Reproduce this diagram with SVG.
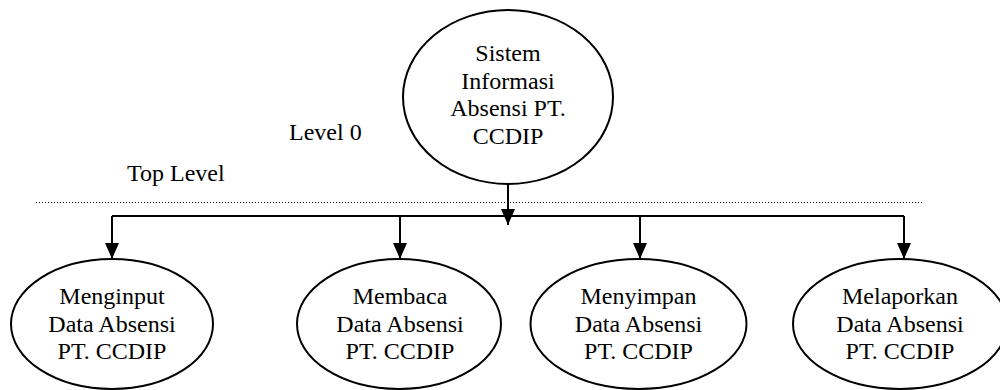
<svg xmlns="http://www.w3.org/2000/svg" width="1000" height="390" viewBox="0 0 1000 390">
  <style>
    .node ellipse { fill: #fff; stroke: #000; stroke-width: 2; }
    text { font-family: "Liberation Serif", "Times New Roman", serif; font-size: 24px; fill: #000; text-anchor: middle; }
    .lbl { text-anchor: start; }
    .conn { fill: none; stroke: #000; stroke-width: 2; }
    .dot { stroke: #000; stroke-width: 1; stroke-dasharray: 1 2; }
  </style>
  <defs>
    <marker id="arr" markerWidth="16" markerHeight="14" refX="16" refY="7" orient="auto" markerUnits="userSpaceOnUse" viewBox="0 0 16 14">
      <path d="M0,0 L16,7 L0,14 Z" fill="#000"/>
    </marker>
  </defs>
  <line class="dot" x1="36" y1="202.5" x2="923" y2="202.5"/>
  <text class="lbl" x="289" y="140">Level 0</text>
  <text class="lbl" x="127" y="181">Top Level</text>
  <g id="connectors">
    <path class="conn" d="M112,216 L904,216"/>
    <path class="conn" d="M508,184 L508,225" marker-end="url(#arr)"/>
    <path class="conn" d="M112,216 L112,259" marker-end="url(#arr)"/>
    <path class="conn" d="M400,216 L400,259" marker-end="url(#arr)"/>
    <path class="conn" d="M640,216 L640,259" marker-end="url(#arr)"/>
    <path class="conn" d="M904,216 L904,259" marker-end="url(#arr)"/>
  </g>
  <g id="n0" class="node">
    <ellipse cx="508" cy="97" rx="105" ry="87"/>
    <text x="508" y="61">Sistem</text>
    <text x="508" y="88.5">Informasi</text>
    <text x="508" y="116">Absensi PT.</text>
    <text x="508" y="143.5">CCDIP</text>
  </g>
  <g id="n1" class="node">
    <ellipse cx="112" cy="324" rx="101" ry="65"/>
    <text x="112" y="304">Menginput</text>
    <text x="112" y="331.5">Data Absensi</text>
    <text x="112" y="358.5">PT. CCDIP</text>
  </g>
  <g id="n2" class="node">
    <ellipse cx="399" cy="324" rx="102" ry="65"/>
    <text x="400" y="304">Membaca</text>
    <text x="400" y="331.5">Data Absensi</text>
    <text x="400" y="358.5">PT. CCDIP</text>
  </g>
  <g id="n3" class="node">
    <ellipse cx="638.5" cy="324" rx="108" ry="65"/>
    <text x="638.5" y="304">Menyimpan</text>
    <text x="638.5" y="331.5">Data Absensi</text>
    <text x="638.5" y="358.5">PT. CCDIP</text>
  </g>
  <g id="n4" class="node">
    <ellipse cx="900" cy="324" rx="107" ry="65"/>
    <text x="900" y="304">Melaporkan</text>
    <text x="900" y="331.5">Data Absensi</text>
    <text x="900" y="358.5">PT. CCDIP</text>
  </g>
</svg>
